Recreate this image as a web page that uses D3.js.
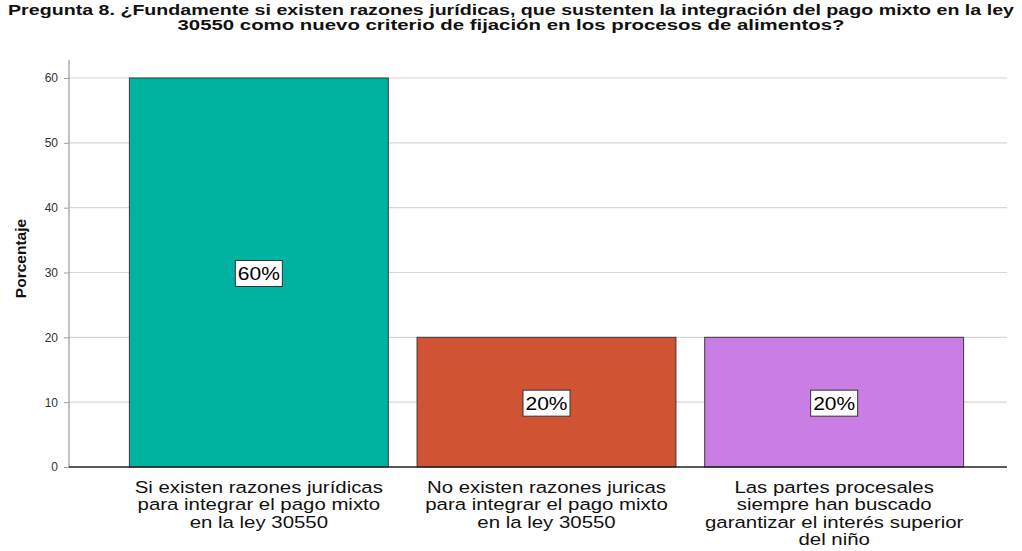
<!DOCTYPE html>
<html>
<head>
<meta charset="utf-8">
<script src="https://cdn.jsdelivr.net/npm/d3@7"></script>
<style>
  body { margin: 0; background: #fff; }
  svg text { font-family: Arial, "Liberation Sans", sans-serif; }
</style>
</head>
<body>
<div id="chart"></div>
<script>
const categories = [
  ['Si existen razones jurídicas', 'para integrar el pago mixto', 'en la ley 30550'],
  ['No existen razones juricas', 'para integrar el pago mixto', 'en la ley 30550'],
  ['Las partes procesales', 'siempre han buscado', 'garantizar el interés superior', 'del niño']
]
const values = [60, 20, 20]
const barColors = ['#00b3a0', '#d05434', '#ca7de4']
const yTicks = [0, 10, 20, 30, 40, 50, 60]
const titleLines = [
  'Pregunta 8. ¿Fundamente si existen razones jurídicas, que sustenten la integración del pago mixto en la ley',
  '30550 como nuevo criterio de fijación en los procesos de alimentos?'
]

const width = 1022
const height = 551
const axisX = 69
const gridRight = 1007
// ancho de cada linea del titulo
const titleWidths = [1006, 667]

const svg = d3.select('#chart')
  .append('svg')
  .attr('width', width)
  .attr('height', height)

// titulo
svg.append('g')
  .selectAll('text')
  .data(titleLines)
  .enter()
  .append('text')
  .attr('x', width / 2)
  .attr('y', (d, i) => 15 + i * 15)
  .attr('text-anchor', 'middle')
  .attr('textLength', (d, i) => titleWidths[i])
  .attr('lengthAdjust', 'spacingAndGlyphs')
  .attr('style', 'font-size:15px;font-weight:bold;fill:#111;')
  .text(d => d)

const keys = categories.map((d, i) => i)
const xScale = d3.scaleBand()
  .domain(keys)
  .range([115, 978])
  .paddingInner(0.1)
  .paddingOuter(0.05)

const yScale = d3.scaleLinear()
  .domain([0, 60])
  .range([467, 78])

// lineas de cuadricula
svg.append('g')
  .selectAll('line')
  .data(yTicks.filter(d => d > 0))
  .enter()
  .append('line')
  .attr('x1', axisX)
  .attr('x2', gridRight)
  .attr('y1', d => yScale(d))
  .attr('y2', d => yScale(d))
  .attr('stroke', '#d6d6d6')
  .attr('stroke-width', 1.2)

// eje y
const yAxis = d3.axisLeft(yScale).tickValues(yTicks).tickSize(5).tickPadding(6)
const yAxisG = svg.append('g')
  .attr('transform', `translate(${axisX},0)`)
  .call(yAxis)
yAxisG.select('.domain')
  .attr('d', `M0,60V${yScale(0)}`)
  .attr('stroke', '#a0a0a0')
  .attr('stroke-width', 1.3)
yAxisG.selectAll('.tick line').attr('stroke', '#a0a0a0')
yAxisG.selectAll('.tick text')
  .attr('style', 'font-size:12px;fill:#333;')

svg.append('text')
  .attr('transform', `translate(26,${(yScale(0) + yScale(60)) / 2 - 14}) rotate(-90)`)
  .attr('text-anchor', 'middle')
  .attr('style', 'font-size:15.5px;font-weight:bold;fill:#111;')
  .text('Porcentaje')

// barras
svg.append('g')
  .selectAll('rect')
  .data(values)
  .enter()
  .append('rect')
  .attr('x', (d, i) => xScale(i))
  .attr('y', d => yScale(d))
  .attr('width', xScale.bandwidth())
  .attr('height', d => yScale(0) - yScale(d))
  .attr('fill', (d, i) => barColors[i])
  .attr('stroke', '#3a3a3a')
  .attr('stroke-width', 1)

// eje x
svg.append('line')
  .attr('x1', axisX)
  .attr('x2', gridRight)
  .attr('y1', yScale(0))
  .attr('y2', yScale(0))
  .attr('stroke', '#222')
  .attr('stroke-width', 1.3)

// etiquetas de valor
const labelG = svg.append('g')
  .selectAll('g')
  .data(values)
  .enter()
  .append('g')
  .attr('transform', (d, i) => `translate(${xScale(i) + xScale.bandwidth() / 2},${yScale(d / 2) + 1})`)
labelG.append('rect')
  .attr('x', -23.5)
  .attr('y', -13)
  .attr('width', 47)
  .attr('height', 26)
  .attr('fill', '#fff')
  .attr('stroke', '#333')
  .attr('stroke-width', 1)
labelG.append('text')
  .attr('text-anchor', 'middle')
  .attr('dy', '0.36em')
  .attr('textLength', 42)
  .attr('lengthAdjust', 'spacingAndGlyphs')
  .attr('style', 'font-size:18px;fill:#000;')
  .text(d => `${d}%`)

// etiquetas de categoria (texto ensanchado como en la referencia)
svg.append('g')
  .selectAll('text')
  .data(categories)
  .enter()
  .append('text')
  .attr('transform', (d, i) => `translate(${xScale(i) + xScale.bandwidth() / 2},493) scale(1.2,1)`)
  .attr('text-anchor', 'middle')
  .attr('style', 'font-size:17px;fill:#111;')
  .selectAll('tspan')
  .data(d => d)
  .enter()
  .append('tspan')
  .attr('x', 0)
  .attr('dy', (d, i) => i === 0 ? 0 : 17.3)
  .text(d => d)
</script>
</body>
</html>
